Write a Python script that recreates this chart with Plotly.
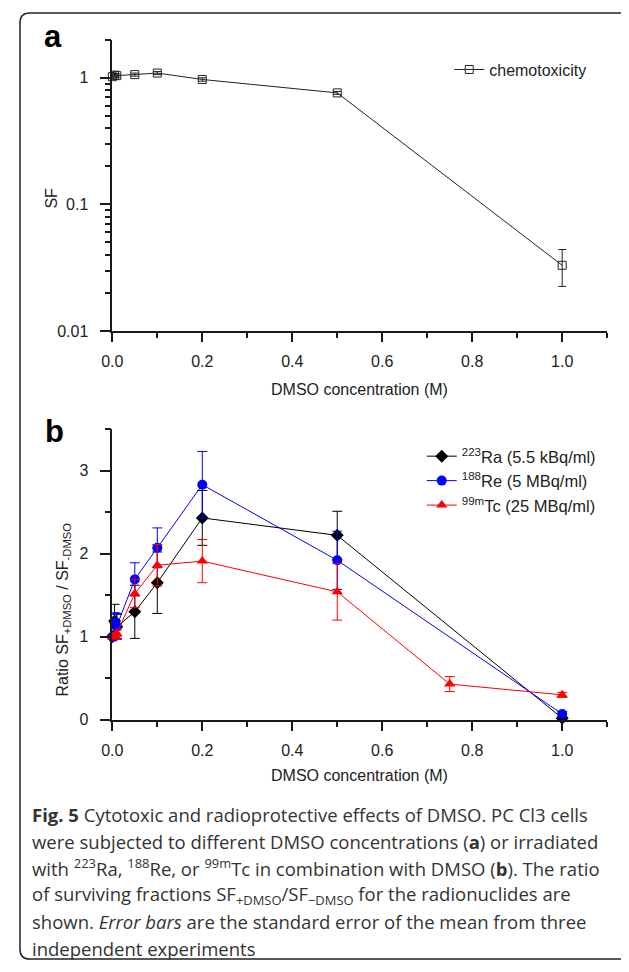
import plotly.graph_objects as go

# The page is drawn 8 px in from the window corner (body margin), so the
# figure is 8 px smaller and every window position is shifted by 8 px.
WIN_W, WIN_H = 629, 972
OFF = 8
W, H = WIN_W - OFF, WIN_H - OFF

# ---------------- data ----------------
# Panel a: chemotoxicity
a_x = [0, 0.005, 0.01, 0.05, 0.1, 0.2, 0.5, 1.0]
a_sf = [1.02, 1.05, 1.04, 1.06, 1.09, 0.97, 0.76, 0.033]
a_err_plus = [0.04, 0.03, 0.03, 0.03, 0.03, 0.03, 0.02, 0.011]
a_err_minus = [0.04, 0.03, 0.03, 0.03, 0.03, 0.03, 0.02, 0.0105]

# Panel b: ratio SF+DMSO / SF-DMSO
ra_x = [0, 0.005, 0.01, 0.05, 0.1, 0.2, 0.5, 1.0]
ra_y = [1.0, 1.19, 1.12, 1.30, 1.65, 2.43, 2.22, 0.02]
ra_err = [0.04, 0.20, 0.15, 0.32, 0.37, 0.33, 0.29, 0.02]

re_x = [0, 0.005, 0.01, 0.05, 0.1, 0.2, 0.5, 1.0]
re_y = [1.0, 1.17, 1.13, 1.69, 2.07, 2.83, 1.92, 0.07]
re_err = [0.05, 0.12, 0.15, 0.20, 0.24, 0.40, 0.35, 0.03]

tc_x = [0, 0.005, 0.01, 0.05, 0.1, 0.2, 0.5, 0.75, 1.0]
tc_y = [1.0, 1.01, 1.04, 1.52, 1.86, 1.91, 1.54, 0.43, 0.30]
tc_err = [0.03, 0.03, 0.04, 0.17, 0.25, 0.26, 0.34, 0.09, 0.03]

a_yticks = [0.01, 0.1, 1]
a_yticktext = ["0.01", "0.1", "1"]
a_yminor = [0.02, 0.03, 0.04, 0.05, 0.06, 0.07, 0.08, 0.09,
            0.2, 0.3, 0.4, 0.5, 0.6, 0.7, 0.8, 0.9, 2]
b_yticks = [0, 1, 2, 3]
x_ticks = [0.0, 0.2, 0.4, 0.6, 0.8, 1.0]
x_ticktext = ["0.0", "0.2", "0.4", "0.6", "0.8", "1.0"]

# ---------------- helpers (window pixels -> paper) ----------------
def px(x):
    return (x - OFF) / W

def py(y):
    return 1 - (y - OFF) / H

FONT = "Liberation Sans, Arial, sans-serif"
AX = "#1a1a1a"
TXT = "#222"

fig = go.Figure()

fig.add_trace(go.Scatter(
    x=a_x, y=a_sf, mode="lines+markers", name="chemotoxicity",
    line=dict(color="#222", width=1),
    marker=dict(symbol="square-open", size=8, color="#222", line=dict(width=1)),
    error_y=dict(type="data", array=a_err_plus, arrayminus=a_err_minus,
                 color="#222", thickness=1, width=4),
    cliponaxis=False, xaxis="x", yaxis="y", legend="legend",
))

series = [
    ("<sup>223</sup>Ra (5.5 kBq/ml)", ra_x, ra_y, ra_err, "black", "diamond", 10),
    ("<sup>188</sup>Re (5 MBq/ml)", re_x, re_y, re_err, "#0000ff", "circle", 10),
    ("<sup>99m</sup>Tc (25 MBq/ml)", tc_x, tc_y, tc_err, "#ff0000", "triangle-up", 10),
]
for name, xs, ys, es, col, sym, sz in series:
    fig.add_trace(go.Scatter(
        x=xs, y=ys, mode="lines+markers", name=name,
        line=dict(color=col, width=1),
        marker=dict(symbol=sym, size=sz, color=col),
        error_y=dict(type="data", array=es, color=col, thickness=1, width=5),
        cliponaxis=False, xaxis="x2", yaxis="y2", legend="legend2",
    ))

xdom = [px(103), px(607)]
tickfont = dict(family=FONT, size=16, color=TXT)
common_x = dict(
    range=[0, 1.1005], domain=xdom, showline=True, linewidth=1.5, linecolor=AX,
    ticks="outside", ticklen=9, tickwidth=1.5, tickcolor=AX, ticklabelstandoff=6,
    tickvals=x_ticks, ticktext=x_ticktext, showgrid=False, zeroline=False,
    tickfont=tickfont,
    minor=dict(ticks="outside", ticklen=5, tickwidth=1.5, tickcolor=AX,
               dtick=0.1, tick0=0, showgrid=False),
)

fig.update_layout(
    width=W, height=H, autosize=False,
    margin=dict(l=0, r=0, t=0, b=0),
    paper_bgcolor="white", plot_bgcolor="white",
    xaxis=dict(anchor="y", **common_x),
    yaxis=dict(
        type="log", range=[-2, 0.301], domain=[py(334), py(40)],
        anchor="x", showline=True, linewidth=1.5, linecolor=AX,
        ticks="outside", ticklen=11, tickwidth=1.5, tickcolor=AX, ticklabelstandoff=8,
        tickvals=a_yticks, ticktext=a_yticktext, showgrid=False, zeroline=False,
        tickfont=tickfont,
        minor=dict(ticks="outside", ticklen=6, tickwidth=1.5, tickcolor=AX,
                   tickvals=a_yminor, showgrid=False),
    ),
    xaxis2=dict(anchor="y2", **common_x),
    yaxis2=dict(
        range=[0, 3.5], domain=[py(726.5), py(433)],
        anchor="x2", showline=True, linewidth=1.5, linecolor=AX,
        ticks="outside", ticklen=11, tickwidth=1.5, tickcolor=AX, ticklabelstandoff=8,
        tickvals=b_yticks, showgrid=False, zeroline=False,
        tickfont=tickfont,
        minor=dict(ticks="outside", ticklen=6, tickwidth=1.5, tickcolor=AX,
                   dtick=0.5, tick0=0, showgrid=False),
    ),
    legend=dict(x=px(446), y=py(53), xanchor="left", yanchor="top",
                bgcolor="rgba(0,0,0,0)", font=dict(family=FONT, size=16, color=TXT)),
    legend2=dict(x=px(418), y=py(443), xanchor="left", yanchor="top",
                 bgcolor="rgba(0,0,0,0)", tracegroupgap=0,
                 font=dict(family=FONT, size=16.5, color=TXT)),
    showlegend=True,
)

ann = []
def text(x, y, s, size, angle=0, xanchor="center", family=FONT, color=TXT):
    ann.append(dict(x=px(x), y=py(y), xref="paper", yref="paper", text=s,
                    showarrow=False, textangle=angle, xanchor=xanchor, yanchor="middle",
                    font=dict(family=family, size=size, color=color)))

text(43, 37, "<b>a</b>", 31, color="black")
text(44, 435, "<b>b</b>", 31, color="black")
text(41, 200, "SF", 16, angle=-90)
text(53, 615, "Ratio SF<sub>+DMSO</sub> / SF<sub>-DMSO</sub>", 16, angle=-90)
text(355, 393, "DMSO concentration (M)", 16)
text(355, 783, "DMSO concentration (M)", 16)

CAP = "Open Sans, Noto Sans, sans-serif"
cap_lines = [
    "<b>Fig. 5</b> Cytotoxic and radioprotective effects of DMSO. PC Cl3 cells",
    "were subjected to different DMSO concentrations (<b>a</b>) or irradiated",
    "with <sup>223</sup>Ra, <sup>188</sup>Re, or <sup>99m</sup>Tc in combination with DMSO (<b>b</b>). The ratio",
    "of surviving fractions SF<sub>+DMSO</sub>/SF<sub>\u2212DMSO</sub> for the radionuclides are",
    "shown. <i>Error bars</i> are the standard error of the mean from three",
    "independent experiments",
]
for i, line in enumerate(cap_lines):
    text(19, 822 + 27 * i, line, 18.5, xanchor="left", family=CAP, color="#333")

fig.update_layout(annotations=ann)

# rounded frame around the figure
x0, y0, x1, y1, r = 9, 13, 650, 968, 10
path = (f"M {px(x1)},{py(y0)} L {px(x0 + r)},{py(y0)} "
        f"Q {px(x0)},{py(y0)} {px(x0)},{py(y0 + r)} "
        f"L {px(x0)},{py(y1 - r)} Q {px(x0)},{py(y1)} {px(x0 + r)},{py(y1)} "
        f"L {px(x1)},{py(y1)}")
fig.add_shape(type="path", path=path, xref="paper", yref="paper",
              line=dict(color="#222", width=1.5))

fig.write_html("out.html")
